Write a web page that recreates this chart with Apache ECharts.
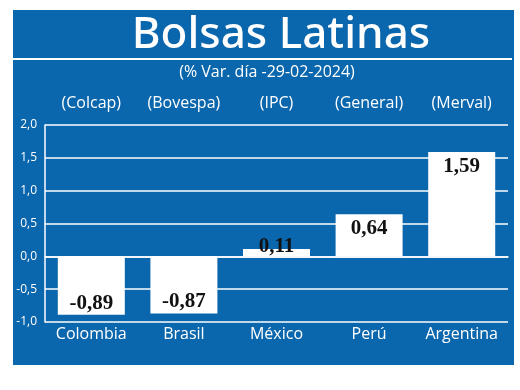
<!DOCTYPE html>
<html lang="es">
<head>
  <meta charset="UTF-8">
  <title>Bolsas Latinas</title>
  <style>
    html, body { margin: 0; padding: 0; background: #fff; }
    #chart { width: 520px; height: 390px; }
  </style>
</head>
<body>
  <div id="chart"></div>
  <script src="https://cdn.jsdelivr.net/npm/echarts@6/dist/echarts.min.js"></script>
  <script>
    // datos
    const paises = ['Colombia', 'Brasil', 'México', 'Perú', 'Argentina']
    const indices = ['(Colcap)', '(Bovespa)', '(IPC)', '(General)', '(Merval)']
    const variacion = [-0.89, -0.87, 0.11, 0.64, 1.59]

    const azul = '#0a66ad'
    const coma = v => String(v.toFixed(1)).replace('.', ',')

    const myChart = echarts.init(document.getElementById('chart'))

    // etiqueta de cada barra: dentro arriba / abajo, la pequeña encima
    const barras = variacion.map(v => {
      let label = { position: v < 0 ? 'insideBottom' : 'insideTop', distance: v < 0 ? 1 : 4 }
      if (Math.abs(v) < 0.3) label = { position: 'insideBottom', distance: -1 }
      return { value: v, label: label }
    })

    const option = {
      backgroundColor: '#fff',
      graphic: [
        { type: 'rect', shape: { x: 13, y: 10, width: 501, height: 355 }, style: { fill: azul }, z: -10 },
        { type: 'rect', shape: { x: 13, y: 58, width: 499, height: 2 }, style: { fill: '#fff' }, z: -5 },
        {
          type: 'text', x: 281, y: 35,
          style: { text: 'Bolsas Latinas', fill: '#fff', font: '500 44px "Noto Sans"', textAlign: 'center', textVerticalAlign: 'middle' }
        },
        {
          type: 'text', x: 267, y: 72,
          style: { text: '(% Var. día -29-02-2024)', fill: '#fff', font: '16px "Open Sans"', textAlign: 'center', textVerticalAlign: 'middle' }
        }
      ],
      grid: { left: 45, right: 12, top: 125, bottom: 68 },
      xAxis: [
        {
          type: 'category', data: paises, position: 'bottom',
          axisLine: { show: true, lineStyle: { color: '#fff', width: 1.5 } },
          axisTick: { show: false },
          axisLabel: { color: '#fff', fontSize: 16, fontFamily: 'Open Sans', margin: 4, interval: 0 }
        },
        {
          type: 'category', data: indices, position: 'top',
          axisLine: { show: false }, axisTick: { show: false },
          axisLabel: { color: '#fff', fontSize: 16, fontFamily: 'Open Sans', margin: 14, interval: 0 }
        }
      ],
      yAxis: {
        type: 'value', min: -1, max: 2, interval: 0.5,
        axisLine: { show: true, lineStyle: { color: '#fff', width: 1.5 } },
        axisTick: { show: false },
        axisLabel: { color: '#fff', fontSize: 12, fontFamily: 'Open Sans', margin: 8, formatter: coma },
        splitLine: { lineStyle: { color: '#fff', width: 1.5 } }
      },
      series: [{
        type: 'bar', data: barras, barWidth: 67,
        itemStyle: { color: '#fff' },
        label: {
          show: true, color: '#111', fontSize: 21, fontWeight: 'bold', fontFamily: 'Liberation Serif',
          formatter: p => p.value.toFixed(2).replace('.', ',')
        }
      }]
    }

    myChart.setOption(option)
  </script>
</body>
</html>
